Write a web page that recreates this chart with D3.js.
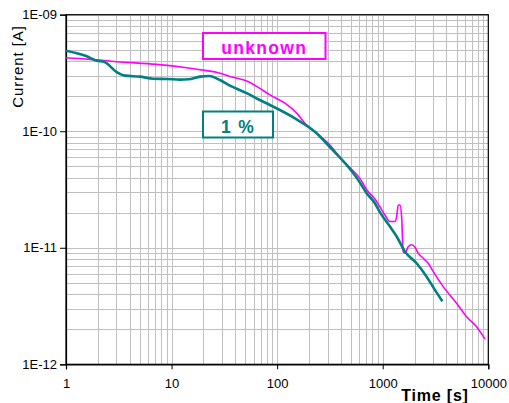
<!DOCTYPE html>
<html>
<head>
<meta charset="utf-8">
<script src="https://cdn.jsdelivr.net/npm/d3@7"></script>
<style>
  html, body { margin: 0; padding: 0; background: #fff; }
  svg { display: block; font-family: "Liberation Sans", Arial, sans-serif; }
</style>
</head>
<body>
<svg id="chart" width="509" height="403"></svg>
<script>
// ---- data ----
const xTickValues = [1, 10, 100, 1000, 10000];
const xTickLabels = ["1", "10", "100", "1000", "10000"];
const yTickValues = [1e-12, 1e-11, 1e-10, 1e-9];
const yTickLabels = ["1E-12", "1E-11", "1E-10", "1E-09"];

const seriesNames = ["unknown", "1 %"];

const timeUnknown = [1, 1.69, 3.02, 7.22, 13.9, 21.5, 27.7, 38.4, 51.4, 66.2, 85.5, 118.6, 153, 190, 237, 316, 393, 489, 608, 708, 844, 940, 1050, 1170, 1306, 1355, 1403, 1455, 1510, 1564, 1623, 1743, 1878, 2020, 2170, 2420, 2700, 3010, 3740, 5010, 6230, 7740, 9290];
const currentUnknown = [4.27e-10, 4.14e-10, 3.95e-10, 3.75e-10, 3.51e-10, 3.31e-10, 3.18e-10, 2.90e-10, 2.70e-10, 2.38e-10, 2.05e-10, 1.74e-10, 1.43e-10, 1.13e-10, 9.6e-11, 7.6e-11, 5.98e-11, 4.87e-11, 3.94e-11, 3.13e-11, 2.62e-11, 2.25e-11, 1.91e-11, 1.68e-11, 1.68e-11, 1.85e-11, 2.33e-11, 2.33e-11, 1.85e-11, 9.27e-12, 8.98e-12, 1.02e-11, 1.06e-11, 1.01e-11, 8.98e-12, 8.13e-12, 7.36e-12, 6.24e-12, 4.64e-12, 3.34e-12, 2.56e-12, 2.10e-12, 1.65e-12];

const time1pct = [1, 1.55, 1.95, 2.31, 3.02, 3.62, 5.02, 6.71, 8.99, 12.0, 14.4, 18.6, 22.8, 28.7, 35.7, 51.4, 66.2, 85.5, 147.6, 228, 328, 455, 586, 704, 844, 940, 1170, 1355, 1623, 2094, 2606, 3121, 3673];
const current1pct = [4.91e-10, 4.42e-10, 4.03e-10, 3.93e-10, 3.22e-10, 3.00e-10, 2.94e-10, 2.82e-10, 2.81e-10, 2.77e-10, 2.79e-10, 2.94e-10, 2.98e-10, 2.75e-10, 2.46e-10, 2.12e-10, 1.88e-10, 1.68e-10, 1.29e-10, 9.9e-11, 7.05e-11, 5.13e-11, 3.82e-11, 2.94e-11, 2.41e-11, 2.02e-11, 1.52e-11, 1.25e-11, 9.27e-12, 7.36e-12, 5.65e-12, 4.35e-12, 3.47e-12];

// ---- layout ----
const svg = d3.select("#chart");
const L = 66, R = 488.3, T = 14.7, B = 364.3;
const x = d3.scaleLog().domain([1, 10000]).range([L, R]);
const y = d3.scaleLog().domain([1e-12, 1e-9]).range([B, T]);

const gridColor = "#c0c0c0";
const magenta = "#ff00ff";
const teal = "#008080";

// grid
const grid = svg.append("g");
grid.selectAll("line.vx").data(x.ticks()).join("line")
  .attr("x1", d => Math.round(x(d)) + 0.5).attr("x2", d => Math.round(x(d)) + 0.5)
  .attr("y1", T).attr("y2", B)
  .attr("stroke", gridColor).attr("stroke-width", 1);
grid.selectAll("line.hy").data(y.ticks()).join("line")
  .attr("y1", d => Math.round(y(d)) + 0.5).attr("y2", d => Math.round(y(d)) + 0.5)
  .attr("x1", L).attr("x2", R)
  .attr("stroke", gridColor).attr("stroke-width", 1);

// frame
svg.append("rect")
  .attr("x", L).attr("y", T).attr("width", R - L).attr("height", B - T)
  .attr("fill", "none").attr("stroke", "#000").attr("stroke-width", 1.2);

// axes
const fmtX = d => xTickLabels[xTickValues.indexOf(d)];
const fmtY = d => yTickLabels[yTickValues.indexOf(d)];

const xAxis = svg.append("g").attr("transform", `translate(0,${B})`)
  .call(d3.axisBottom(x).tickValues(xTickValues).tickFormat(fmtX).tickSize(5).tickPadding(9));
const yAxis = svg.append("g").attr("transform", `translate(${L},0)`)
  .call(d3.axisLeft(y).tickValues(yTickValues).tickFormat(fmtY).tickSize(6).tickPadding(3));
[xAxis, yAxis].forEach(a => {
  a.select(".domain").attr("stroke", "#000").attr("stroke-width", 1.2);
  a.selectAll(".tick line").attr("stroke", "#000");
  a.selectAll("text").attr("fill", "#000")
    .style("font-family", '"Liberation Sans", Arial, sans-serif').style("font-size", "13px");
});

// series lines
const line = d3.line().x(d => x(d[0])).y(d => y(d[1])).curve(d3.curveMonotoneX);
const unknownData = timeUnknown.map((t, i) => [t, currentUnknown[i]]);
const pctData = time1pct.map((t, i) => [t, current1pct[i]]);

svg.append("path").datum(unknownData).attr("d", line)
  .attr("fill", "none").attr("stroke", magenta).attr("stroke-width", 1.6).attr("stroke-linejoin", "round");
svg.append("path").datum(pctData).attr("d", line)
  .attr("fill", "none").attr("stroke", teal).attr("stroke-width", 2.6).attr("stroke-linejoin", "round");

// legend labels (boxed)
function boxLabel(x0, y0, w, h, color, text, baseline) {
  svg.append("rect").attr("x", x0).attr("y", y0).attr("width", w).attr("height", h)
    .attr("fill", "#fff").attr("stroke", color).attr("stroke-width", 2);
  svg.append("text").attr("x", x0 + w / 2).attr("y", baseline)
    .attr("text-anchor", "middle").attr("fill", color)
    .style("font-size", "17.5px").style("font-weight", "bold").style("letter-spacing", "1.3px")
    .text(text);
}
boxLabel(203, 33, 122.5, 26, magenta, seriesNames[0], 54);
boxLabel(203, 111.5, 70, 26, teal, seriesNames[1], 132.5);

// axis titles
svg.append("text").attr("transform", "translate(23,66.5) rotate(-90)")
  .attr("text-anchor", "middle").attr("fill", "#000")
  .style("font-size", "15px").style("letter-spacing", "0.9px")
  .text("Current [A]");
svg.append("text").attr("x", 435).attr("y", 400.5)
  .attr("text-anchor", "middle").attr("fill", "#000")
  .style("font-size", "16px").style("font-weight", "bold").style("letter-spacing", "0.8px")
  .text("Time [s]");
</script>
</body>
</html>
